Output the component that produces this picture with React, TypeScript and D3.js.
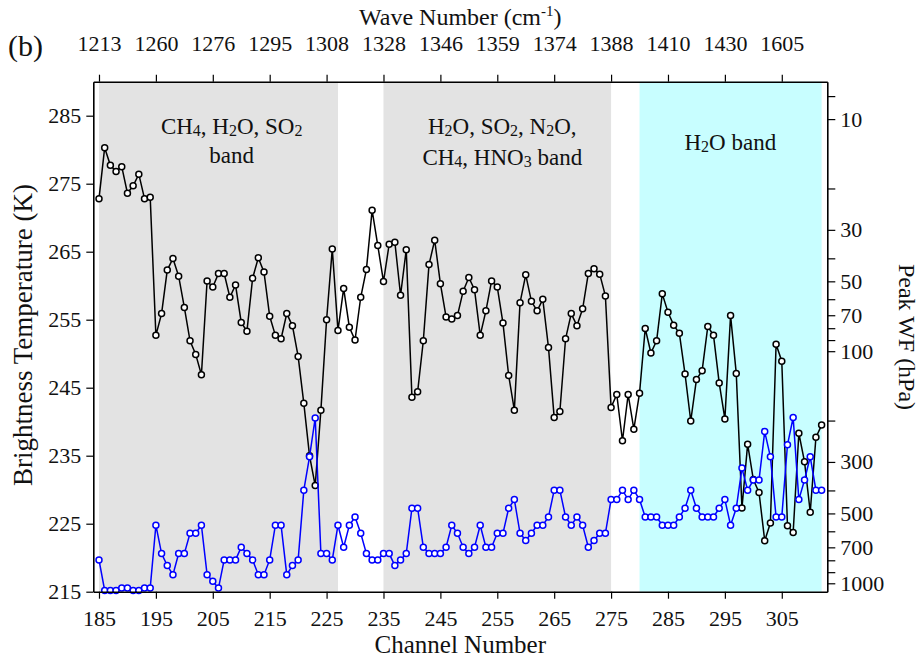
import React, { useEffect, useRef } from "react";
import * as d3 from "d3";

// channel numbers on the bottom axis (one point per channel)
const channels = d3.range(185, 313);

// brightness temperature (K), black line, left axis
const brightnessTemp = [
  272.8, 280.3, 277.7, 276.8, 277.5, 273.6, 274.7, 276.4, 272.8, 273.0,
  252.7, 255.9, 262.3, 264.0, 261.4, 256.8, 251.9, 249.9, 246.9, 260.7,
  259.8, 261.8, 261.8, 258.3, 260.1, 254.6, 253.3, 261.1, 264.1, 262.0,
  255.5, 252.7, 252.2, 255.9, 254.1, 249.6, 242.7, 235.0, 230.6, 241.7,
  255.0, 265.4, 253.4, 259.6, 253.9, 252.0, 258.3, 262.4, 271.1, 265.9,
  260.6, 266.1, 266.4, 258.6, 265.3, 243.6, 244.4, 251.9, 263.1, 266.7,
  260.3, 255.4, 255.1, 255.6, 259.2, 261.2, 259.4, 252.7, 256.3, 260.7,
  259.8, 254.5, 246.8, 241.7, 257.5, 261.6, 257.7, 256.3, 258.0, 250.9,
  240.6, 241.5, 252.2, 255.9, 254.1, 256.6, 261.8, 262.5, 261.7, 258.5,
  242.1, 244.0, 237.2, 244.0, 238.9, 244.2, 253.7, 250.1, 251.9, 258.8,
  256.1, 254.2, 253.0, 247.0, 240.1, 246.2, 247.5, 254.0, 252.7, 245.7,
  240.4, 255.6, 247.1, 227.3, 236.7, 231.5, 229.6, 222.5, 225.1, 251.4,
  248.9, 224.7, 223.7, 238.3, 234.1, 226.7, 237.7, 239.5,
];

// peak weighting function pressure (hPa), blue line, right axis
const peakWF = [
  793, 1074, 1074, 1074, 1049, 1049, 1074, 1074, 1049, 1049,
  562, 745, 839, 918, 745, 745, 609, 609, 562, 918,
  980, 1049, 793, 793, 793, 699, 745, 793, 918, 918,
  793, 562, 562, 918, 839, 793, 397, 285, 194, 745,
  745, 793, 562, 699, 562, 518, 609, 745, 793, 793,
  745, 745, 839, 793, 745, 475, 475, 699, 745, 745,
  745, 699, 562, 609, 699, 745, 699, 562, 699, 699,
  609, 609, 475, 436, 609, 654, 609, 562, 562, 518,
  397, 397, 518, 562, 518, 562, 699, 654, 609, 609,
  436, 436, 397, 436, 397, 436, 518, 518, 518, 562,
  562, 562, 518, 475, 397, 475, 518, 518, 518, 475,
  436, 562, 475, 319, 397, 359, 359, 222, 285, 518,
  518, 253, 193, 436, 359, 285, 397, 397,
];

const channelTicks = [185, 195, 205, 215, 225, 235, 245, 255, 265, 275, 285, 295, 305];
const waveNumbers = ["1213", "1260", "1276", "1295", "1308", "1328", "1346", "1359", "1374", "1388", "1410", "1430", "1605"];
const tempTicks = [215, 225, 235, 245, 255, 265, 275, 285];
const pressureLabels = [10, 30, 50, 70, 100, 300, 500, 700, 1000];
const pressureMinor = [8, 20, 40, 60, 80, 90, 200, 400, 600, 800, 900];

// absorption bands: channel ranges and their labels ({n} = subscript)
const bandStart = [185, 235, 280];
const bandEnd = [227, 275, 312];
const bandFill = ["#e3e3e3", "#e3e3e3", "#c8feff"];
const bandLabels = [
  ["CH{4}, H{2}O, SO{2}", "band"],
  ["H{2}O, SO{2}, N{2}O,", "CH{4}, HNO{3} band"],
  ["H{2}O band"],
];

const App: React.FC = () => {
  const svgRef = useRef<SVGSVGElement | null>(null);

  useEffect(() => {
    if (!svgRef.current) return;
    const svg = d3.select(svgRef.current);
    svg.selectAll("*").remove();

    const width = 920;
    const height = 657;
    const margin = { top: 81.7, right: 92.7, bottom: 65.3, left: 93.3 };
    const innerWidth = width - margin.left - margin.right;
    const innerHeight = height - margin.top - margin.bottom;

    const x = d3.scaleLinear().domain([184, 313]).range([0, innerWidth]);
    const yT = d3.scaleLinear().domain([215, 290]).range([innerHeight, 0]);
    const yP = d3.scaleLog().domain([6.9, 1087]).range([0, innerHeight]);

    const g = svg.append("g").attr("transform", `translate(${margin.left},${margin.top})`);

    // bands
    g.selectAll("rect.band")
      .data(bandStart)
      .enter()
      .append("rect")
      .attr("x", (d) => x(d))
      .attr("y", 0)
      .attr("width", (d, i) => x(bandEnd[i]) - x(d))
      .attr("height", innerHeight)
      .attr("fill", (d, i) => bandFill[i]);

    // band labels
    const labelX = [231.7, 502.3, 730.3];
    const labelY = [[134, 163.5], [134.3, 165], [150]];
    bandLabels.forEach((lines, i) => {
      lines.forEach((line, j) => {
        const t = g.append("text")
          .attr("x", labelX[i] - margin.left)
          .attr("y", labelY[i][j] - margin.top)
          .attr("text-anchor", "middle")
          .attr("font-size", 23)
          .attr("fill", "#111");
        const parts = line.split(/(\{\d+\})/).filter((s) => s.length > 0);
        let shifted = false;
        parts.forEach((p) => {
          if (p.startsWith("{")) {
            t.append("tspan").attr("font-size", 16).attr("dy", shifted ? 0 : 2).text(p.slice(1, -1));
            shifted = true;
          } else {
            t.append("tspan").attr("dy", shifted ? -2 : 0).text(p);
            shifted = false;
          }
        });
      });
    });

    // black line: brightness temperature
    const lineT = d3.line<number>().x((d, i) => x(channels[i])).y((d) => yT(d));
    g.append("path")
      .datum(brightnessTemp)
      .attr("d", lineT)
      .attr("fill", "none")
      .attr("stroke", "#000")
      .attr("stroke-width", 1.5);
    g.selectAll("circle.bt")
      .data(brightnessTemp)
      .enter()
      .append("circle")
      .attr("cx", (d, i) => x(channels[i]))
      .attr("cy", (d) => yT(d))
      .attr("r", 3)
      .attr("fill", "#fff")
      .attr("stroke", "#000")
      .attr("stroke-width", 1.5);

    // blue line: peak WF
    const lineP = d3.line<number>().x((d, i) => x(channels[i])).y((d) => yP(d));
    g.append("path")
      .datum(peakWF)
      .attr("d", lineP)
      .attr("fill", "none")
      .attr("stroke", "#0000ff")
      .attr("stroke-width", 1.5);
    g.selectAll("circle.wf")
      .data(peakWF)
      .enter()
      .append("circle")
      .attr("cx", (d, i) => x(channels[i]))
      .attr("cy", (d) => yP(d))
      .attr("r", 3)
      .attr("fill", "#fff")
      .attr("stroke", "#0000ff")
      .attr("stroke-width", 1.5);

    const styleAxis = (a: d3.Selection<SVGGElement, unknown, null, undefined>) => {
      a.selectAll(".domain").attr("stroke", "#000").attr("stroke-width", 1.6);
      a.selectAll(".tick line").attr("stroke", "#000").attr("stroke-width", 1.2);
      a.selectAll(".tick text").attr("font-size", 22).attr("fill", "#111").attr("font-family", "'Liberation Serif', serif");
    };

    // bottom axis
    const ax = g.append("g")
      .attr("transform", `translate(0,${innerHeight})`)
      .call(d3.axisBottom(x).tickValues(channelTicks).tickSize(7).tickSizeOuter(0).tickPadding(12).tickFormat(d3.format("d")));
    styleAxis(ax);

    // top axis (wave number)
    const axTop = g.append("g")
      .call(d3.axisTop(x).tickValues(channelTicks).tickSize(7).tickSizeOuter(0).tickPadding(24)
        .tickFormat((d, i) => waveNumbers[i]));
    styleAxis(axTop);

    // left axis
    const ay = g.append("g")
      .call(d3.axisLeft(yT).tickValues(tempTicks).tickSize(7).tickSizeOuter(0).tickPadding(5).tickFormat(d3.format("d")));
    styleAxis(ay);

    // right axis (log pressure)
    const ayR = g.append("g")
      .attr("transform", `translate(${innerWidth},0)`)
      .call(d3.axisRight(yP).tickValues(pressureLabels).tickSize(8).tickSizeOuter(0).tickPadding(5).tickFormat(d3.format("d")));
    styleAxis(ayR);
    ayR.selectAll("line.minor")
      .data(pressureMinor)
      .enter()
      .append("line")
      .attr("x1", 0)
      .attr("x2", 8)
      .attr("y1", (d) => yP(d))
      .attr("y2", (d) => yP(d))
      .attr("stroke", "#000")
      .attr("stroke-width", 1.2);

    // titles
    svg.append("text")
      .attr("x", margin.left + innerWidth / 2)
      .attr("y", 653)
      .attr("text-anchor", "middle")
      .attr("font-size", 25)
      .attr("fill", "#111")
      .text("Channel Number");

    const top = svg.append("text")
      .attr("x", margin.left + innerWidth / 2)
      .attr("y", 25)
      .attr("text-anchor", "middle")
      .attr("font-size", 24)
      .attr("fill", "#111");
    top.append("tspan").text("Wave Number (cm");
    top.append("tspan").attr("font-size", 15).attr("dy", -9).text("-1");
    top.append("tspan").attr("dy", 9).text(")");

    svg.append("text")
      .attr("transform", "translate(32,335) rotate(-90)")
      .attr("text-anchor", "middle")
      .attr("font-size", 27)
      .attr("fill", "#111")
      .text("Brightness Temperature (K)");

    svg.append("text")
      .attr("transform", "translate(899,337) rotate(90)")
      .attr("text-anchor", "middle")
      .attr("font-size", 24)
      .attr("fill", "#111")
      .text("Peak WF (hPa)");

    svg.append("text")
      .attr("x", 8)
      .attr("y", 56)
      .attr("font-size", 30)
      .attr("fill", "#111")
      .text("(b)");
  }, []);

  return (
    <svg
      ref={svgRef}
      width={920}
      height={657}
      style={{ position: "absolute", left: 0, top: 0, background: "#fff", fontFamily: "'Liberation Serif', 'Times New Roman', serif" }}
    ></svg>
  );
};

export default App;
